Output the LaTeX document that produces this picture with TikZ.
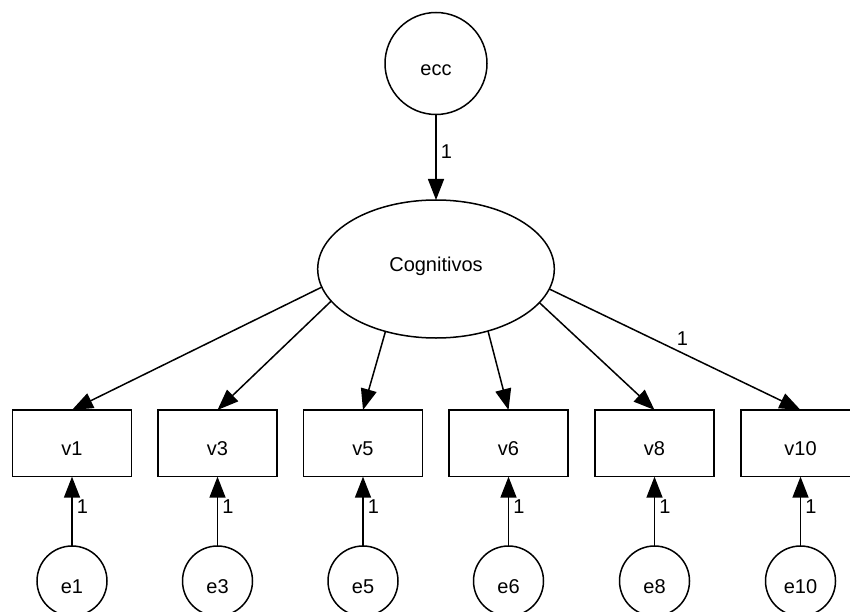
\documentclass[tikz,border=0pt]{standalone}
\usepackage{fontspec}
\setmainfont{Liberation Sans}
\usetikzlibrary{arrows.meta,shapes.geometric}
\begin{document}
\begin{tikzpicture}[x=1pt,y=-1pt,
  base/.style={draw,line width=1.5pt,inner sep=0pt,outer sep=0pt,
    font=\fontsize{20}{23}\selectfont,text height=24.5pt,text depth=0pt},
  obs/.style={base,rectangle,minimum width=119pt,minimum height=66.7pt},
  err/.style={base,circle,minimum size=70pt},
  lat/.style={base,ellipse,minimum width=236.6pt,minimum height=138pt,text height=4pt},
  lbl/.style={font=\fontsize{20}{23}\selectfont,inner sep=0pt,anchor=base},
  arr/.style={line width=1.5pt,-{Triangle[length=21pt,width=16pt]}}]
\useasboundingbox (0,0) rectangle (850,612);
\clip (0,0) rectangle (850,612);
\node[base,circle,minimum size=102pt] (ecc) at (436,63.5) {ecc};
\node[lat] (cog) at (436,269) {Cognitivos};
\foreach \n/\x in {1/72,3/217.5,5/363,6/508.5,8/654.5,10/800.5}{
  \node[obs] (v\n) at (\x,443.3) {v\n};
  \node[err] (e\n) at (\x,581) {e\n};
  \draw[arr] (e\n) -- node[lbl,pos=0.47,xshift=10.5pt]{1} (v\n);
}
\draw[arr] (ecc) -- node[lbl,pos=0.515,xshift=10.5pt]{1} (cog);
\draw[arr] (cog.189.6) -- (v1.north);
\draw[arr] (cog.197.8) -- (v3.north);
\draw[arr] (cog.231.7) -- (v5.north);
\draw[arr] (cog.310.1) -- (v6.north);
\draw[arr] (cog.342.3) -- (v8.north);
\draw[arr] (cog.350.4) -- node[lbl,pos=0.53,yshift=7.8pt]{1} (v10.north);
\end{tikzpicture}
\end{document}
